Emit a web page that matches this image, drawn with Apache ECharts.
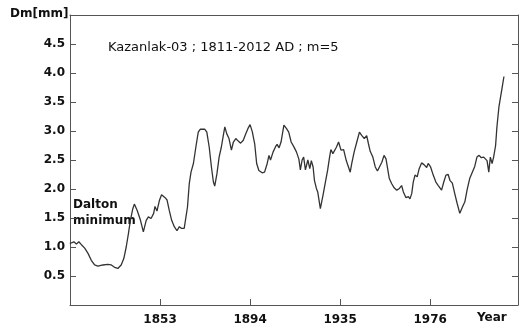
<!DOCTYPE html>
<html>
<head>
<meta charset="utf-8">
<script src="https://cdn.jsdelivr.net/npm/echarts@6/dist/echarts.min.js"></script>
<style>
html,body{margin:0;padding:0;background:#fff;}
#chart{width:521px;height:328px;}
</style>
</head>
<body>
<div id="chart"></div>
<script>
var years = [1811.9,1812.6,1813.8,1814.9,1816.0,1817.2,1818.7,1820.2,1821.7,1823.2,1824.7,1827.0,1829.2,1830.8,1832.3,1833.8,1835.3,1836.5,1837.6,1838.6,1839.5,1840.6,1841.3,1842.6,1844.1,1845.4,1846.7,1847.7,1848.9,1850.1,1850.7,1851.6,1852.7,1853.7,1854.6,
1855.3,1856.2,1857.2,1858.3,1859.5,1860.7,1861.8,1862.8,1864.0,1864.8,1865.5,1866.3,1867.1,1868.2,1869.3,1870.4,1871.3,1872.3,1873.4,1874.3,1875.4,1876.4,1877.3,1877.9,1878.9,1879.9,1880.9,1881.8,1882.5,1883.4,1884.4,1885.5,1886.4,1887.5,1888.5,1889.7,1890.9,1892.0,1893.0,1894.0,
1895.0,1896.1,1897.0,1898.0,1899.5,1900.6,1901.8,1902.6,1903.3,1904.5,1905.6,1906.3,1907.2,1908.1,1909.4,1910.6,1911.6,1912.7,1913.9,1915.1,1916.2,1916.9,1917.7,1918.4,1919.2,1920.3,1921.2,1921.9,1922.7,1923.3,1924.2,1924.8,1926.0,1927.2,1928.3,1929.3,1930.2,1930.8,1931.7,
1933.3,1934.3,1935.4,1936.6,1937.8,1938.8,1939.6,1940.3,1941.4,1942.6,1943.8,1944.9,1946.0,1947.1,1947.9,1948.7,1949.9,1951.0,1952.0,1952.9,1954.0,1955.0,1955.9,1956.5,1957.4,1958.5,1959.6,1960.8,1962.0,1963.0,1963.8,1965.0,1966.1,1966.8,1967.6,1968.3,1969.1,1970.1,1971.0,1972.1,1973.2,1974.4,1975.1,
1976.2,1977.4,1978.6,1979.7,1981.2,1982.2,1983.2,1984.2,1985.0,1986.1,1987.2,1988.3,1989.5,1990.7,1991.8,1992.8,1994.0,1995.2,1996.3,1997.3,1998.3,1999.3,2000.4,2001.3,2001.9,2002.7,2003.4,2004.2,2004.9,2005.8,2006.4,2007.3,2007.9,2008.7,2009.6];
var values = [1.06,1.07,1.09,1.05,1.09,1.04,0.98,0.89,0.77,0.69,0.67,0.69,0.70,0.69,0.65,0.63,0.69,0.80,1.00,1.23,1.46,1.66,1.74,1.63,1.46,1.26,1.46,1.52,1.49,1.58,1.70,1.62,1.80,1.90,1.93,
1.85,1.81,1.63,1.46,1.35,1.28,1.35,1.32,1.32,1.35,1.69,2.09,2.29,2.44,2.72,2.98,3.03,3.03,3.03,2.98,2.72,2.38,2.12,2.05,2.26,2.55,2.72,2.92,3.07,2.95,2.87,2.67,2.81,2.87,2.83,2.79,2.84,2.95,3.04,3.11,
2.99,2.78,2.44,2.32,2.28,2.29,2.44,2.58,2.50,2.64,2.73,2.77,2.71,2.81,3.10,3.04,2.98,2.81,2.73,2.64,2.52,2.33,2.50,2.55,2.33,2.50,2.35,2.49,2.38,2.15,2.01,1.95,1.66,1.89,2.12,2.32,2.55,2.68,2.61,
2.72,2.81,2.67,2.68,2.49,2.38,2.29,2.44,2.64,2.81,2.98,2.92,2.87,2.92,2.78,2.65,2.55,2.38,2.31,2.32,2.46,2.58,2.52,2.38,2.18,2.09,2.02,1.98,2.01,2.06,1.95,1.85,1.87,1.83,1.92,2.12,2.24,2.21,2.35,2.45,2.42,2.37,2.44,
2.38,2.24,2.12,2.06,1.98,2.12,2.24,2.25,2.15,2.10,1.92,1.75,1.58,1.69,1.78,1.98,2.18,2.29,2.39,2.55,2.58,2.54,2.55,2.58,2.49,2.29,2.55,2.44,2.55,2.75,3.07,3.41,3.55,3.73,3.94];
var yTickLabels = ['0.5','1.0','1.5','2.0','2.5','3.0','3.5','4.0','4.5'];
var xTickLabels = ['1853','1894','1935','1976'];
var titleText = 'Kazanlak-03 ; 1811-2012 AD ; m=5';
var yAxisName = 'Dm[mm]';
var xAxisName = 'Year';
var noteLines = ['Dalton', 'minimum'];

var data = years.map(function(y, i){ return [y, values[i]]; });
var FONT = 'DejaVu Sans';
var axisColor = '#555';
var chart = echarts.init(document.getElementById('chart'), null, {renderer:'canvas'});
chart.setOption({
  animation: false,
  backgroundColor: '#fff',
  grid: {left: 70, right: 3, top: 15, bottom: 23},
  xAxis: [{
    type: 'value', min: 1812, max: 2016, interval: 41,
    axisLine: {show: true, lineStyle: {color: axisColor, width: 1}},
    axisTick: {show: true, inside: true, length: 6, lineStyle: {color: axisColor}},
    splitLine: {show: false},
    axisLabel: {
      show: true, showMinLabel: false, showMaxLabel: false, margin: 9,
      color: '#111', fontFamily: FONT, fontWeight: 'bold', fontSize: 12,
      formatter: function(v){ var s = String(Math.round(v)); return xTickLabels.indexOf(s) >= 0 ? s : ''; }
    }
  }, {
    type: 'value', position: 'top', min: 1812, max: 2016,
    axisLine: {show: true, onZero: false, lineStyle: {color: axisColor, width: 1}},
    axisTick: {show: false}, axisLabel: {show: false}, splitLine: {show: false}
  }],
  yAxis: [{
    type: 'value', min: 0, max: 5, interval: 0.5,
    axisLine: {show: true, lineStyle: {color: axisColor, width: 1}},
    axisTick: {show: true, inside: true, length: 6, lineStyle: {color: axisColor}},
    splitLine: {show: false},
    axisLabel: {
      show: true, showMinLabel: false, showMaxLabel: false, margin: 5,
      color: '#111', fontFamily: FONT, fontWeight: 'bold', fontSize: 12,
      formatter: function(v){ var s = v.toFixed(1); return yTickLabels.indexOf(s) >= 0 ? s : ''; }
    }
  }, {
    type: 'value', position: 'right', min: 0, max: 5, interval: 0.5,
    axisLine: {show: true, onZero: false, lineStyle: {color: axisColor, width: 1}},
    axisTick: {show: true, inside: true, length: 6, lineStyle: {color: axisColor}},
    axisLabel: {show: false}, splitLine: {show: false}
  }],
  graphic: [
    {type: 'text', left: 10, top: 8, style: {text: yAxisName, fill: '#111', font: 'bold 12px "DejaVu Sans"'}},
    {type: 'text', left: 477, top: 312, style: {text: xAxisName, fill: '#111', font: 'bold 12px "DejaVu Sans"'}},
    {type: 'text', left: 108, top: 41, style: {text: titleText, fill: '#111', font: '13px "DejaVu Sans"'}},
    {type: 'text', left: 73, top: 197, style: {text: noteLines.join('\n'), fill: '#111', font: 'bold 12px "DejaVu Sans"', lineHeight: 16}}
  ],
  series: [{
    type: 'line', data: data, xAxisIndex: 0, yAxisIndex: 0,
    showSymbol: false, symbol: 'none', smooth: false,
    lineStyle: {color: '#333', width: 1.3}
  }]
});
</script>
</body>
</html>
